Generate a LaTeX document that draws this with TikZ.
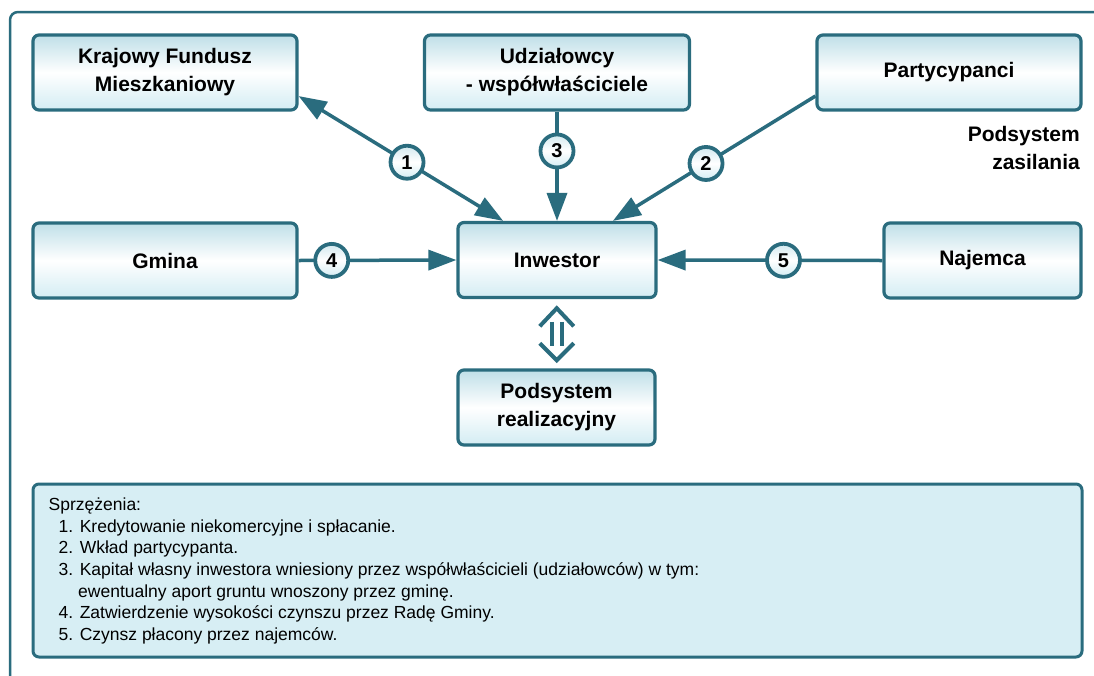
\documentclass[tikz,border=0pt]{standalone}
\usepackage{fontspec}
\setmainfont{Liberation Sans}
\usetikzlibrary{arrows.meta,calc}
\definecolor{frame}{HTML}{2A6C7E}
\definecolor{boxtop}{HTML}{BFDFE8}
\definecolor{boxbot}{HTML}{D3ECF3}
\definecolor{legfill}{HTML}{D7EEF4}
\begin{document}
\begin{tikzpicture}[x=1pt,y=-1pt,
  box/.style={draw=frame, line width=3.2pt, rounded corners=6pt,
    top color=boxtop, bottom color=boxbot, middle color=white,
    minimum height=75pt, inner sep=0pt, align=center,
    font=\fontsize{21}{28}\selectfont\bfseries},
  num/.style={circle, draw=frame, line width=3.8pt, minimum size=33pt, inner sep=0pt,
    top color=boxtop!70, bottom color=boxbot, middle color=white,
    font=\fontsize{20}{20}\selectfont\bfseries},
  tip/.style={Triangle[length=28pt,width=20pt]},
  arr/.style={draw=frame, line width=3.5pt, -{Triangle[length=28pt,width=20pt]}},
  biarr/.style={draw=frame, line width=3.5pt,
    {Triangle[length=28pt,width=20pt]}-{Triangle[length=28pt,width=20pt]}},
  link/.style={draw=frame, line width=4pt, miter limit=10}
]
\useasboundingbox (0,0) rectangle (1094,675);
\fill[white] (0,0) rectangle (1094,675);

% outer frame (top and left edges)
\draw[frame, line width=2.5pt, rounded corners=8pt] (10,676) -- (10,12) -- (1096,12);

% boxes
\node[box, minimum width=264pt] (kfm) at (165,72.5) {Krajowy Fundusz\\Mieszkaniowy};
\node[box, minimum width=265pt] (udz) at (557,72.5) {Udziałowcy\\- współwłaściciele};
\node[box, minimum width=264pt] (par) at (949,72.5) {Partycypanci};
\node[box, minimum width=264pt] (gmi) at (165,260.5) {Gmina};
\node[box, minimum width=198pt] (inw) at (557,260) {Inwestor};
\node[box, minimum width=197pt] (naj) at (982.5,260.5) {Najemca};
\node[box, minimum width=197pt] (pod) at (556.5,407.5) {Podsystem\\realizacyjny};

\node[anchor=north east, align=right, inner sep=0pt,
      font=\fontsize{21}{28}\selectfont\bfseries] (zas) at (1080,126) {Podsystem\\zasilania};

% flows
\draw[biarr] (kfm.-10.8) -- node[num, pos=0.53] (n1) {1} (inw.144.6);
\draw[arr] (udz.south) -- node[num, pos=0.36] (n3) {3} (inw.north);
\draw[arr] (par.190.7) -- node[num, pos=0.54] (n2) {2} (inw.35.6);
\draw[arr] (gmi.east) -- node[num, pos=0.21] (n4) {4} (inw.west);
\draw[arr] (naj.west) -- node[num, pos=0.44] (n5) {5} (inw.east);

% two-way link to the realization subsystem
\coordinate (mid) at ($(inw.south)!0.5!(pod.north)$);
\draw[link] ($(mid)+(-17,-7.5)$) -- ($(mid)+(0,-25.5)$) -- ($(mid)+(17,-7.5)$);
\draw[link] ($(mid)+(-17,9.5)$) -- ($(mid)+(0,26.5)$) -- ($(mid)+(17,9.5)$);
\draw[link] ($(mid)+(-5,-12)$) -- ($(mid)+(-5,12)$);
\draw[link] ($(mid)+(5,-12)$) -- ($(mid)+(5,12)$);

% legend
\node[draw=frame, line width=3pt, rounded corners=6pt, fill=legfill,
      minimum width=1049pt, minimum height=173pt] (leg) at (557.5,570.5) {};
\node[anchor=north west, align=left, inner sep=0pt,
      font=\fontsize{17.5}{21.7}\selectfont] (legtext) at ($(leg.north west)+(17,15)$)
  {Sprzężenia:\\
   \hspace*{10pt}1. Kredytowanie niekomercyjne i spłacanie.\\
   \hspace*{10pt}2. Wkład partycypanta.\\
   \hspace*{10pt}3. Kapitał własny inwestora wniesiony przez współwłaścicieli (udziałowców) w tym:\\
   \hspace*{29.5pt}ewentualny aport gruntu wnoszony przez gminę.\\
   \hspace*{10pt}4. Zatwierdzenie wysokości czynszu przez Radę Gminy.\\
   \hspace*{10pt}5. Czynsz płacony przez najemców.};
\end{tikzpicture}
\end{document}
